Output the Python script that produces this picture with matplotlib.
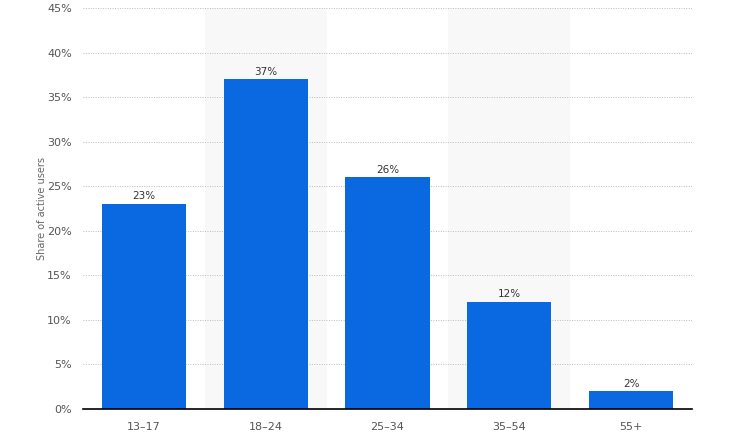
import matplotlib
matplotlib.use("Agg")
import matplotlib.pyplot as plt
from matplotlib.ticker import FuncFormatter, MultipleLocator

categories = ["13-17", "18-24", "25-34", "35-54", "55+"]
values = [23, 37, 26, 12, 2]
y_label = "Share of active users"

fig = plt.figure(figsize=(7.5, 4.36), dpi=100)
ax = fig.add_axes([83/750, 1-409/436, (692-83)/750, (409-8)/436])

x = list(range(len(categories)))
for i in x:
    if i % 2 == 1:
        ax.axvspan(i-0.5, i+0.5, color="#f8f8f8", zorder=0, lw=0)

ax.bar(x, values, width=0.69, color="#0a69e0", zorder=3)
for xi, v in zip(x, values):
    ax.text(xi, v + 0.3, f"{v}%", ha="center", va="bottom", fontsize=7.5, color="#333333", zorder=4)

ax.set_xlim(-0.5, len(categories)-0.5)
ax.set_ylim(0, 45)
ax.yaxis.set_major_locator(MultipleLocator(5))
ax.yaxis.set_major_formatter(FuncFormatter(lambda v, p: f"{int(v)}%"))
ax.set_xticks(x)
ax.set_xticklabels([c.replace("-", "–") for c in categories])
ax.grid(axis="y", linestyle=(0, (1, 1.5)), color="#bbbbbb", lw=0.7, zorder=1)
ax.set_axisbelow(True)
for s in ["top", "right", "left"]:
    ax.spines[s].set_visible(False)
ax.spines["bottom"].set_color("#000000")
ax.spines["bottom"].set_linewidth(1.2)
ax.spines["bottom"].set_zorder(5)
ax.tick_params(axis="both", length=0, labelsize=8, colors="#555555")
ax.tick_params(axis="x", pad=9)
ax.tick_params(axis="y", pad=8)
ax.set_ylabel(y_label, fontsize=7, color="#666666", labelpad=0)

fig.savefig("out.png", dpi=100)
